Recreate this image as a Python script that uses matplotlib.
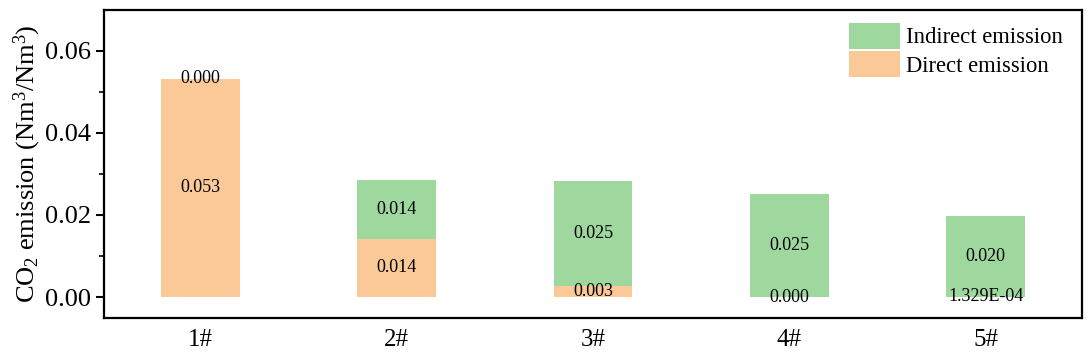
import numpy as np
import matplotlib
matplotlib.use("Agg")
import matplotlib.pyplot as plt
from matplotlib.ticker import MultipleLocator, FormatStrFormatter

plt.rcParams["font.family"] = ["Liberation Serif", "DejaVu Serif"]
plt.rcParams["mathtext.fontset"] = "custom"
plt.rcParams["mathtext.rm"] = "Liberation Serif"
plt.rcParams["mathtext.it"] = "Liberation Serif:italic"

# ── data ────────────────────────────────────────────────────────────────────
cases    = ["1#", "2#", "3#", "4#", "5#"]
direct   = [0.0532, 0.0142, 0.0027, 0.0000, 1.329e-4]
indirect = [0.0000, 0.0143, 0.0256, 0.0251, 0.0197]
direct_lbl   = ["0.053", "0.014", "0.003", "0.000", "1.329E-04"]
indirect_lbl = ["0.000", "0.014", "0.025", "0.025", "0.020"]

c_dir = "#FBC897"
c_ind = "#9FD89F"

fig = plt.figure(figsize=(10.9, 3.6), dpi=100)
ax = fig.add_axes([104 / 1090, 42 / 360, 978 / 1090, 308 / 360])

x = np.arange(len(cases))
w = 0.40
b1 = ax.bar(x, direct, w, color=c_dir, label="Direct emission")
b2 = ax.bar(x, indirect, w, bottom=direct, color=c_ind, label="Indirect emission")

# segment labels, centred on each segment
for i in range(len(cases)):
    d, ind = direct[i], indirect[i]
    ax.text(x[i], d / 2, direct_lbl[i], ha="center", va="center", fontsize=13)
    ax.text(x[i], d + ind / 2, indirect_lbl[i], ha="center", va="center",
            fontsize=13)

ax.set_xlim(-0.49, 4.49)
ax.set_ylim(-0.0051, 0.0699)
ax.set_xticks(x)
ax.set_xticklabels(cases)
ax.yaxis.set_major_locator(MultipleLocator(0.02))
ax.yaxis.set_minor_locator(MultipleLocator(0.01))
ax.yaxis.set_major_formatter(FormatStrFormatter("%.2f"))
ax.tick_params(axis="y", which="major", direction="out", length=6, width=1.5,
               labelsize=19, pad=3)
ax.tick_params(axis="y", which="minor", direction="out", length=3.5, width=1.2)
ax.tick_params(axis="x", length=0, labelsize=18, pad=8)
for sp in ax.spines.values():
    sp.set_linewidth(1.6)

ax.set_ylabel(r"CO$_2$ emission (Nm$^3$/Nm$^3$)", fontsize=19, labelpad=2)

handles = [b2, b1]
ax.legend(handles, [h.get_label() for h in handles], loc="upper right",
          frameon=False, fontsize=16.3, handlelength=2.25, handleheight=1.4,
          handletextpad=0.3, labelspacing=0.1, borderaxespad=0.3,
          bbox_to_anchor=(0.997, 1.01))

fig.savefig("out.png", dpi=100)
